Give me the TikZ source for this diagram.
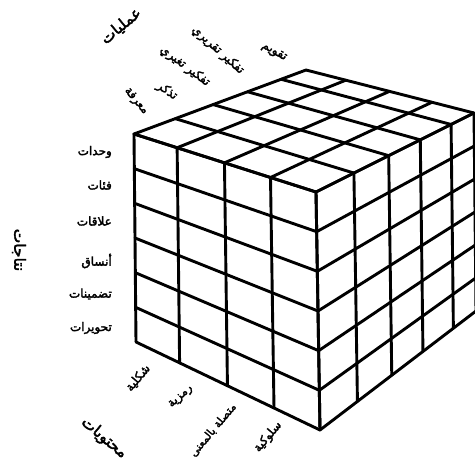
\documentclass[tikz,border=0pt]{standalone}
\usepackage{fontspec}
\newfontfamily\arabicfont[Script=Arabic, FakeBold=2.5]{DejaVu Sans}
\TeXXeTstate=1
\usetikzlibrary{calc}
\tikzset{
  gridline/.style={line width=2.9pt, line cap=round, line join=round},
  lab/.style={font=\arabicfont\fontsize{12}{14}\selectfont, inner sep=0pt},
  biglab/.style={font=\arabicfont\fontsize{15.5}{17}\selectfont, inner sep=0pt},
}
\newcommand{\artext}[1]{\beginR #1\endR}
\begin{document}
\begin{tikzpicture}[x=1pt,y=-1pt]
\useasboundingbox (0,0) rectangle (475,469);
\clip (0,0) rectangle (475,469);
% cube corners
\coordinate (A) at (134,134);
\coordinate (B) at (316,192);
\coordinate (C) at (320,430);
\coordinate (D) at (136,342);
\coordinate (E) at (306,70);
\coordinate (F) at (474,113);
\coordinate (G) at (476,311);
% front face
\foreach \u in {0,0.237,0.497,0.75,1}
  \draw[gridline] ($(A)!\u!(B)$) -- ($(D)!\u!(C)$);
\foreach \w in {0,0.1667,0.3333,0.5,0.6667,0.8333,1}
  \draw[gridline] ($(A)!\w!(D)$) -- ($(B)!\w!(C)$);
% right face
\foreach \v in {0,0.24,0.46,0.66,0.855,1}
  \draw[gridline] ($(B)!\v!(F)$) -- ($(C)!\v!(G)$);
\foreach \w in {0,0.1667,0.3333,0.5,0.6667,0.8333,1}
  \draw[gridline] ($(B)!\w!(C)$) -- ($(F)!\w!(G)$);
% top face
\foreach \u in {0,0.237,0.497,0.75,1}
  \draw[gridline] ($(A)!\u!(B)$) -- ($(E)!\u!(F)$);
\foreach \v in {0,0.24,0.46,0.66,0.855,1}
  \draw[gridline] ($(A)!\v!(E)$) -- ($(B)!\v!(F)$);
% axis titles
\node[biglab, rotate=40] (ops) at (121,26) {\artext{عمليات}};
\node[biglab, rotate=-90] (prods) at (19,250) {\artext{نتاجات}};
\node[biglab, rotate=-40] (conts) at (104,438) {\artext{محتويات}};
% operations
\node[lab, rotate=-50] (o1) at (136,101) {\artext{معرفة}};
\node[lab, rotate=-35] (o2) at (167,91) {\artext{تذكر}};
\node[lab, rotate=-37] (o3) at (185,66) {\artext{تفكير تغيري}};
\node[lab, rotate=-42] (o4) at (218,50) {\artext{تفكير تقريري}};
\node[lab, rotate=-30] (o5) at (274,52) {\artext{تقويم}};
% products
\node[lab, anchor=east] (p1) at (112,152) {\artext{وحدات}};
\node[lab, anchor=east] (p2) at (112,185) {\artext{فئات}};
\node[lab, anchor=east] (p3) at (112,221) {\artext{علاقات}};
\node[lab, anchor=east] (p4) at (112,261) {\artext{أنساق}};
\node[lab, anchor=east] (p5) at (112,294) {\artext{تضمينات}};
\node[lab, anchor=east] (p6) at (112,328) {\artext{تحويرات}};
% contents
\node[lab, rotate=50] (c1) at (138,378) {\artext{شكلية}};
\node[lab, rotate=42] (c2) at (181,397) {\artext{رمزية}};
\node[lab, rotate=50, font=\arabicfont\fontsize{11}{13}\selectfont] (c3) at (213,430) {\artext{متصلة بالمعنى}};
\node[lab, rotate=50] (c4) at (268,437) {\artext{سلوكية}};
\end{tikzpicture}
\end{document}
